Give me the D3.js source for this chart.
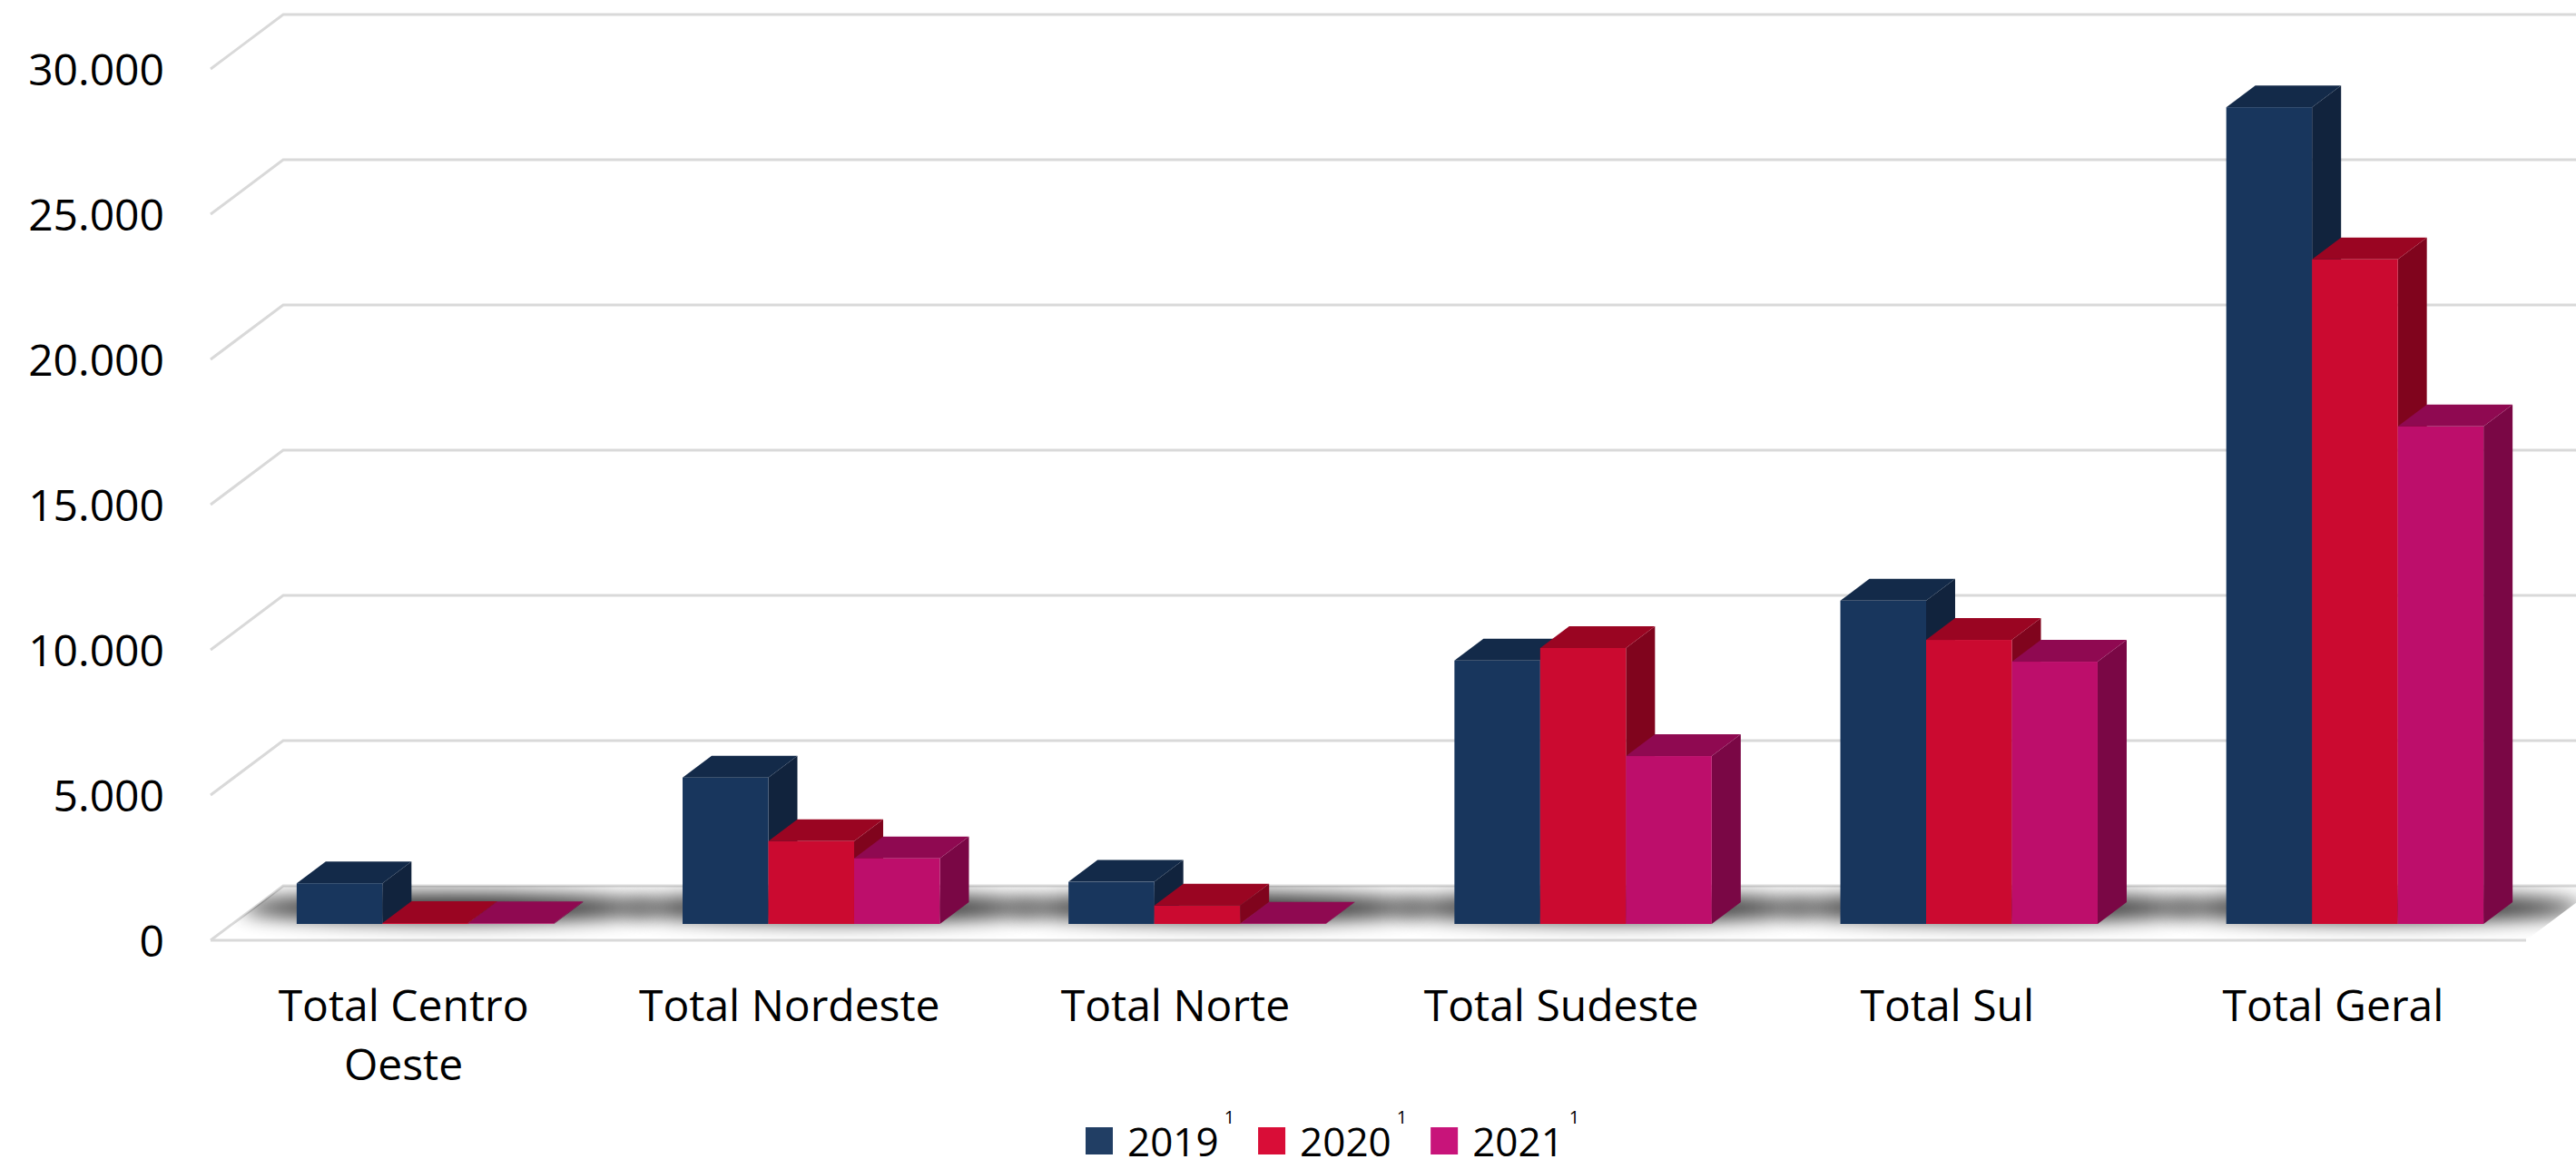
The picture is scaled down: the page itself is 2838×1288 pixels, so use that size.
<!DOCTYPE html>
<html>
<head>
<meta charset="utf-8">
<script src="https://cdn.jsdelivr.net/npm/d3@7"></script>
<style>
  body { margin: 0; background: #fff; }
  text { font-family: "Open Sans", sans-serif; fill: #000; }
</style>
</head>
<body>
<svg id="chart"></svg>
<script>
//  data
const categories = ["Total Centro Oeste", "Total Nordeste", "Total Norte", "Total Sudeste", "Total Sul", "Total Geral"];
const categoryLines = [["Total Centro", "Oeste"], ["Total Nordeste"], ["Total Norte"], ["Total Sudeste"], ["Total Sul"], ["Total Geral"]];
const series = ["2019", "2020", "2021"];
const values2019 = [1400, 5040, 1450, 9070, 11130, 28120];
const values2020 = [30, 2850, 630, 9500, 9780, 22880];
const values2021 = [20, 2260, 10, 5780, 9030, 17130];
const yTicks = [0, 5000, 10000, 15000, 20000, 25000, 30000];

const seriesValues = [values2019, values2020, values2021];
const frontColors = ["#18365d", "#cb0a30", "#bd0e6b"];
const topColors = ["#132a49", "#9a0522", "#8f0951"];
const sideColors = ["#11233d", "#80041d", "#7a0745"];
const legendColors = ["#213e64", "#d90d37", "#c8147a"];

function draw_chart() {
  const w = 2838, h = 1288;
  const svg = d3.select("#chart").attr("width", w).attr("height", h);

  //  depth of the floor (x, y) and where the bars sit in it
  const depth = [80, -60];
  const barFront = 0.3, barBack = 0.7;
  const off = f => [depth[0] * f, depth[1] * f];

  const y = d3.scaleLinear().domain([0, 30000]).range([1036, 76]);
  const x = d3.scaleBand().domain(categories).range([232, 2783]).paddingInner(1/3).paddingOuter(1/6);
  const xs = d3.scaleBand().domain(series).range([0, x.bandwidth()]);
  const fmt = d3.formatLocale({decimal: ",", thousands: ".", grouping: [3], currency: ["R$", ""]}).format(",");

  const defs = svg.append("defs");
  defs.append("filter").attr("id", "blur")
    .attr("x", "-50%").attr("y", "-300%").attr("width", "200%").attr("height", "700%")
    .append("feGaussianBlur").attr("stdDeviation", 11);
  const [fx, fy] = off(1);
  const floorPts = [[x.range()[0], y(0)], [x.range()[0] + fx, y(0) + fy], [x.range()[1] + fx, y(0) + fy], [x.range()[1], y(0)]];
  defs.append("clipPath").attr("id", "floorClip")
    .append("polygon").attr("points", floorPts.map(p => p.join(",")).join(" "));

  //  gridlines (back wall + left side)
  yTicks.forEach(t => {
    svg.append("path")
      .attr("d", `M${x.range()[0]},${y(t)} L${x.range()[0] + fx},${y(t) + fy} L${w + 10},${y(t) + fy}`)
      .attr("fill", "none")
      .style("stroke", "#d9d9d9")
      .style("stroke-width", 3);

    svg.append("text")
      .attr("x", 181)
      .attr("y", y(t) + 18)
      .attr("text-anchor", "end")
      .style("font-size", "48px")
      .text(fmt(t));
  });

  //  floor front line
  svg.append("line")
    .attr("x1", x.range()[0]).attr("y1", y(0))
    .attr("x2", x.range()[1]).attr("y2", y(0))
    .style("stroke", "#d9d9d9")
    .style("stroke-width", 3);

  //  shadows on the floor
  const shadows = svg.append("g").attr("clip-path", "url(#floorClip)");
  categories.forEach(c => {
    const [ox, oy] = off(0.6);
    shadows.append("ellipse")
      .attr("cx", x(c) + x.bandwidth() / 2 + ox)
      .attr("cy", y(0) + oy)
      .attr("rx", x.bandwidth() / 2 + 85)
      .attr("ry", 15)
      .attr("fill", "#000")
      .attr("opacity", 0.85)
      .attr("filter", "url(#blur)");
  });

  //  bars
  const [bx, by] = off(barFront);
  const [dx, dy] = [depth[0] * (barBack - barFront), depth[1] * (barBack - barFront)];
  categories.forEach((c, i) => {
    series.forEach((s, j) => {
      const v = seriesValues[j][i];
      const x0 = x(c) + xs(s) + bx;
      const x1 = x0 + xs.bandwidth();
      const yt = y(v) + by;
      const yb = y(0) + by;
      const g = svg.append("g");

      g.append("polygon")
        .attr("points", [[x1, yt], [x1 + dx, yt + dy], [x1 + dx, yb + dy], [x1, yb]].map(p => p.join(",")).join(" "))
        .attr("fill", sideColors[j]);

      g.append("polygon")
        .attr("points", [[x0, yt], [x1, yt], [x1 + dx, yt + dy], [x0 + dx, yt + dy]].map(p => p.join(",")).join(" "))
        .attr("fill", topColors[j]);

      g.append("rect")
        .attr("x", x0)
        .attr("y", yt)
        .attr("width", x1 - x0)
        .attr("height", yb - yt)
        .attr("fill", frontColors[j]);
    });
  });

  //  category labels
  categories.forEach((c, i) => {
    const t = svg.append("text")
      .attr("text-anchor", "middle")
      .style("font-size", "48px");
    categoryLines[i].forEach((line, k) => {
      t.append("tspan")
        .attr("x", x(c) + x.bandwidth() / 2)
        .attr("y", 1125 + k * 65)
        .text(line);
    });
  });

  //  legend
  let lx = 1196;
  series.forEach((s, j) => {
    svg.append("rect")
      .attr("x", lx).attr("y", 1242)
      .attr("width", 30).attr("height", 30)
      .attr("fill", legendColors[j]);

    const t = svg.append("text")
      .attr("x", lx + 46).attr("y", 1274)
      .style("font-size", "44px");
    t.append("tspan").text(s);
    t.append("tspan")
      .attr("dx", 6)
      .attr("dy", -36)
      .style("font-size", "20px")
      .text("1");
    const tw = t.node().getComputedTextLength();

    lx += 46 + tw + 32;
  });
}

draw_chart();
</script>
</body>
</html>
